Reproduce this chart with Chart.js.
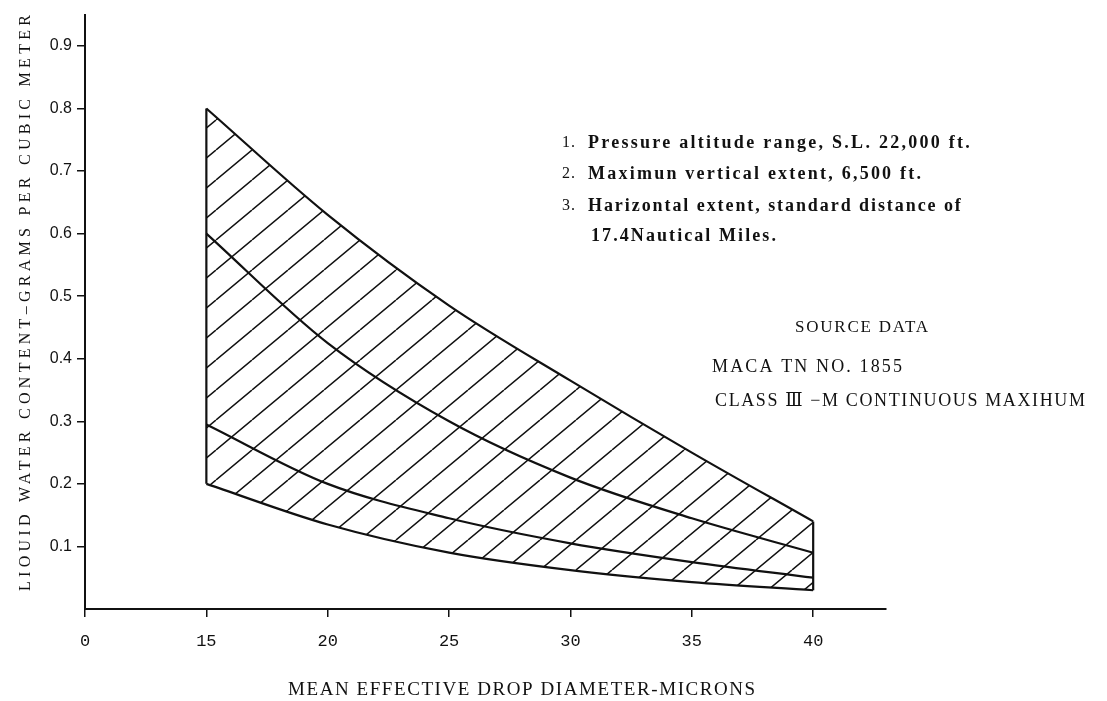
<!DOCTYPE html>
<html>
<head>
<meta charset="utf-8">
<script src="https://cdn.jsdelivr.net/npm/chart.js@4.4.1/dist/chart.umd.min.js"></script>
<style>
  html, body { margin: 0; padding: 0; background: #ffffff; }
  #wrap { width: 1107px; height: 701px; }
</style>
</head>
<body>
<div id="wrap"><canvas id="c" width="1107" height="701"></canvas></div>
<script>
// ---- data ----
const xValues      = [15, 20, 25, 30, 35, 40];
const upperBound   = [0.80, 0.63, 0.485, 0.365, 0.25, 0.14];
const upperMiddle  = [0.60, 0.425, 0.30, 0.21, 0.145, 0.09];
const lowerMiddle  = [0.295, 0.20, 0.145, 0.105, 0.075, 0.05];
const lowerBound   = [0.20, 0.135, 0.09, 0.062, 0.043, 0.03];
const xTickValues  = [10, 15, 20, 25, 30, 35, 40];
const xTickLabels  = ['0', '15', '20', '25', '30', '35', '40'];
const yTickValues  = [0.1, 0.2, 0.3, 0.4, 0.5, 0.6, 0.7, 0.8, 0.9];
const yTickLabels  = ['0.1', '0.2', '0.3', '0.4', '0.5', '0.6', '0.7', '0.8', '0.9'];
const xTitle = 'MEAN EFFECTIVE DROP DIAMETER-MICRONS';
const yTitle = 'LIOUID WATER CONTENT\u2013GRAMS PER CUBIC METER';
const notes = [
  ['1.', 'Pressure altitude range, S.L. 22,000 ft.'],
  ['2.', 'Maximun vertical extent, 6,500 ft.'],
  ['3.', 'Harizontal extent, standard distance of'],
  ['', '17.4Nautical Miles.']
];
const sourceLines = ['SOURCE DATA', 'MACA TN NO. 1855', 'CLASS \u2162 \u2212M CONTINUOUS MAXIHUM'];

const toPts = (ys) => xValues.map((x, i) => ({ x: x, y: ys[i] }));
const last = xValues.length - 1;

// hatch pattern
function makeHatch() {
  const w = 36, h = 30;
  const pc = document.createElement('canvas');
  pc.width = w; pc.height = h;
  const p = pc.getContext('2d');
  p.strokeStyle = '#111';
  p.lineWidth = 1.5;
  p.beginPath();
  p.moveTo(0, h); p.lineTo(w, 0);
  p.moveTo(-w, h); p.lineTo(0, 0);
  p.moveTo(w, h); p.lineTo(2 * w, 0);
  p.stroke();
  return document.getElementById('c').getContext('2d').createPattern(pc, 'repeat');
}
const hatch = makeHatch();

function fitText(ctx, text, left, cy, width) {
  ctx.save();
  ctx.textBaseline = 'middle';
  ctx.textAlign = 'left';
  const natural = ctx.measureText(text).width;
  const n = Array.from(text).length;
  ctx.translate(left, cy);
  if (natural > width) {
    ctx.scale(width / natural, 1);
  } else if ('letterSpacing' in ctx && n > 1) {
    ctx.letterSpacing = ((width - natural) / (n - 1)).toFixed(2) + 'px';
  }
  ctx.fillText(text, 0, 0);
  ctx.restore();
}

const textPlugin = {
  id: 'texts',
  afterDraw(chart) {
    const ctx = chart.ctx;
    ctx.save();
    ctx.fillStyle = '#111';
    // y axis title
    ctx.font = '16px "Liberation Serif", "DejaVu Serif", serif';
    ctx.save();
    ctx.translate(26, 303);
    ctx.rotate(-Math.PI / 2);
    fitText(ctx, yTitle, -288, 0, 576);
    ctx.restore();
    // x axis title
    ctx.font = '19px "Liberation Serif", "DejaVu Serif", serif';
    fitText(ctx, xTitle, 288, 690, 467);
    // notes
    const noteY = [143, 174, 206, 236];
    const noteW = [382, 333, 373, 185];
    notes.forEach((n, i) => {
      if (n[0]) {
        ctx.font = '16px "Liberation Serif", "DejaVu Serif", serif';
        fitText(ctx, n[0], 562, noteY[i], 13);
      }
      ctx.font = 'bold 18px "Liberation Serif", "DejaVu Serif", serif';
      fitText(ctx, n[1], i === 3 ? 591 : 588, noteY[i], noteW[i]);
    });
    // source data block
    ctx.font = '17px "Liberation Serif", "DejaVu Serif", serif';
    fitText(ctx, sourceLines[0], 795, 328, 133);
    ctx.font = '18px "Liberation Serif", "DejaVu Serif", serif';
    fitText(ctx, sourceLines[1], 712, 367, 190);
    fitText(ctx, sourceLines[2], 715, 401, 370);
    ctx.restore();
  }
};

const lineStyle = { borderColor: '#111', borderWidth: 2.2, pointRadius: 0, fill: false,
                    cubicInterpolationMode: 'monotone' };

new Chart(document.getElementById('c'), {
  type: 'line',
  data: {
    datasets: [
      Object.assign({}, lineStyle, { label: 'upper', data: toPts(upperBound),
        fill: { target: 3 }, backgroundColor: hatch }),
      Object.assign({}, lineStyle, { label: 'upper middle', data: toPts(upperMiddle) }),
      Object.assign({}, lineStyle, { label: 'lower middle', data: toPts(lowerMiddle) }),
      Object.assign({}, lineStyle, { label: 'lower', data: toPts(lowerBound) }),
      Object.assign({}, lineStyle, { label: 'left edge',
        data: [{ x: xValues[0], y: lowerBound[0] }, { x: xValues[0], y: upperBound[0] }] }),
      Object.assign({}, lineStyle, { label: 'right edge',
        data: [{ x: xValues[last], y: lowerBound[last] }, { x: xValues[last], y: upperBound[last] }] })
    ]
  },
  options: {
    responsive: false,
    animation: false,
    layout: { padding: { left: 0, top: 10, right: 221, bottom: 0 } },
    plugins: { legend: { display: false }, tooltip: { enabled: false } },
    scales: {
      x: {
        type: 'linear', min: 10, max: 43,
        afterFit(s) { s.height = 92; },
        afterBuildTicks(s) { s.ticks = xTickValues.map(v => ({ value: v })); },
        grid: { drawOnChartArea: false, drawTicks: true, tickLength: 8, color: '#111', lineWidth: 1.5 },
        border: { display: true, color: '#111', width: 2 },
        ticks: {
          padding: 14, color: '#111',
          font: { family: '"Liberation Mono", "DejaVu Sans Mono", monospace', size: 17 },
          callback(v) { const i = xTickValues.indexOf(v); return i >= 0 ? xTickLabels[i] : ''; }
        }
      },
      y: {
        type: 'linear', min: 0, max: 0.95,
        afterFit(s) { s.width = 85; },
        afterBuildTicks(s) { s.ticks = yTickValues.map(v => ({ value: v })); },
        grid: { drawOnChartArea: false, drawTicks: true, tickLength: 8, color: '#111', lineWidth: 1.5 },
        border: { display: true, color: '#111', width: 2 },
        ticks: {
          padding: 5, color: '#111',
          font: { family: '"Liberation Sans", Arial, sans-serif', size: 16 },
          callback(v) { const i = yTickValues.findIndex(t => Math.abs(t - v) < 1e-9); return i >= 0 ? yTickLabels[i] : ''; }
        }
      }
    }
  },
  plugins: [textPlugin]
});
</script>
</body>
</html>
